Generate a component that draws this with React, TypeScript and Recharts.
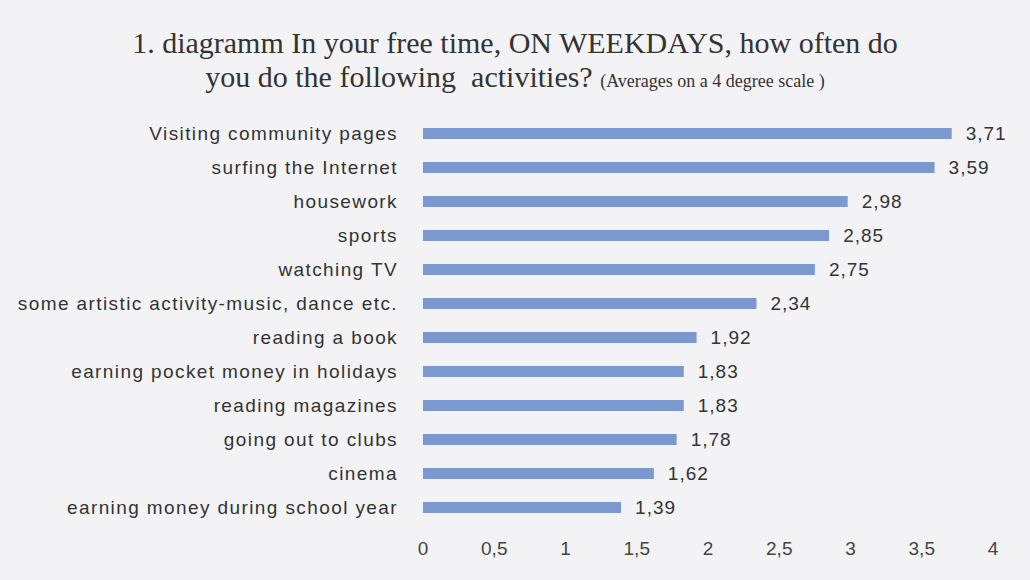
import { BarChart, Bar, XAxis, YAxis, LabelList } from 'recharts';

const activities = [
  'Visiting community pages',
  'surfing the Internet',
  'housework',
  'sports',
  'watching TV',
  'some artistic activity-music, dance etc.',
  'reading a book',
  'earning pocket money in holidays',
  'reading magazines',
  'going out to clubs',
  'cinema',
  'earning money during school year',
];

const averages = [3.71, 3.59, 2.98, 2.85, 2.75, 2.34, 1.92, 1.83, 1.83, 1.78, 1.62, 1.39];

const xTicks = [0, 0.5, 1, 1.5, 2, 2.5, 3, 3.5, 4];

const titleLine1 = '1. diagramm In your free time, ON WEEKDAYS, how often do';
const titleLine2 = 'you do the following  activities?';
const titleNote = '(Averages on a 4 degree scale )';

const data = activities.map((name, i) => ({ name, value: averages[i] }));

const fmt = (v: number) => String(v).replace('.', ',');

const labelFont = "'Liberation Sans', Arial, sans-serif";

export default function App() {
  return (
    <div style={{ position: 'absolute', left: 0, top: 0, width: 1030, height: 580, background: '#f3f3f5', overflow: 'hidden' }}>
      <div
        style={{
          position: 'absolute',
          left: 0,
          top: 26,
          width: 1030,
          textAlign: 'center',
          fontFamily: "'Liberation Serif', 'Times New Roman', serif",
          fontSize: 30,
          lineHeight: '34px',
          color: '#333',
          whiteSpace: 'pre',
        }}
      >
        <div>{titleLine1}</div>
        <div>
          {titleLine2} <span style={{ fontSize: 18 }}>{titleNote}</span>
        </div>
      </div>
      <div style={{ position: 'absolute', left: 0, top: 0 }}>
        <BarChart
          width={1030}
          height={580}
          data={data}
          layout="vertical"
          margin={{ top: 116, right: 37, bottom: 26, left: 0 }}
        >
          <XAxis
            type="number"
            domain={[0, 4]}
            ticks={xTicks}
            tickFormatter={fmt}
            axisLine={false}
            tickLine={false}
            height={30}
            tickMargin={12}
            tick={{ fill: '#444', fontSize: 19, fontFamily: labelFont }}
          />
          <YAxis
            type="category"
            dataKey="name"
            width={423}
            axisLine={false}
            tickLine={false}
            tickMargin={19}
            interval={0}
            tick={{ fill: '#333', fontSize: 19, fontFamily: labelFont, letterSpacing: 1.4 }}
          />
          <Bar dataKey="value" fill="#7b98cf" barSize={11} isAnimationActive={false}>
            <LabelList
              dataKey="value"
              position="right"
              offset={14}
              formatter={(v: any) => fmt(Number(v))}
              style={{ fill: '#333', fontSize: 19, fontFamily: labelFont, letterSpacing: 1 }}
            />
          </Bar>
        </BarChart>
      </div>
    </div>
  );
}
